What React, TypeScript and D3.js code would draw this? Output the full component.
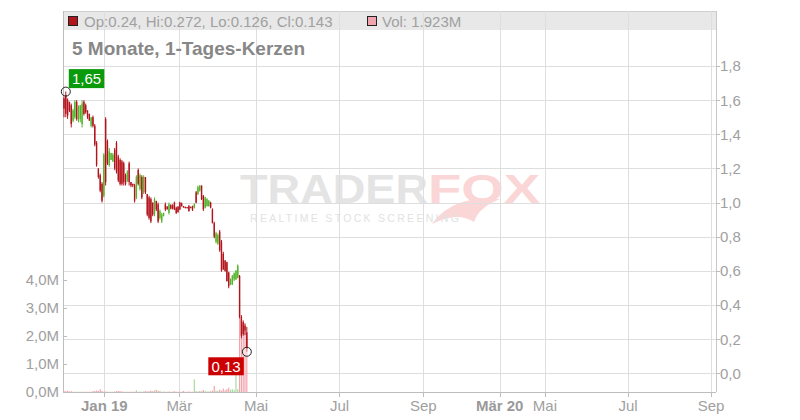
import React from "react";
import * as d3 from "d3";

// Daily candles (trading-day index 0..101), prices in EUR
const openP = [
  1.61, 1.63, 1.60, 1.59, 1.57, 1.48, 1.50, 1.59, 1.48, 1.49, 1.46, 1.59, 1.57, 1.54, 1.52, 1.45, 1.50, 1.45, 1.35, 1.20,
  1.16, 1.11, 1.04, 1.49, 1.36, 1.22, 1.25, 1.24, 1.31, 1.35, 1.27, 1.25, 1.24, 1.23, 1.16, 1.13, 1.23, 1.12, 1.11, 1.10,
  1.03, 1.19, 1.08, 1.15, 1.06, 1.15, 1.05, 1.03, 1.02, 1.00, 0.93, 1.01, 0.99, 0.91, 0.89, 0.92, 0.99, 0.975, 0.94, 0.985,
  0.985, 1.00, 0.97, 0.975, 1.00, 0.995, 0.98, 0.975, 0.973, 0.98, 0.975, 0.98, 0.97, 1.06, 1.05, 1.07, 1.10, 1.04, 0.97, 0.98,
  0.98, 1.00, 0.96, 0.88, 0.77, 0.76, 0.83, 0.77, 0.70, 0.66, 0.65, 0.59, 0.52, 0.52, 0.55, 0.55, 0.56, 0.57, 0.33, 0.30,
  0.28, 0.24,
];
const highP = [
  1.62, 1.65, 1.61, 1.59, 1.58, 1.55, 1.60, 1.60, 1.57, 1.57, 1.60, 1.60, 1.58, 1.54, 1.52, 1.50, 1.51, 1.46, 1.36, 1.20,
  1.17, 1.12, 1.29, 1.50, 1.37, 1.32, 1.29, 1.29, 1.32, 1.36, 1.28, 1.26, 1.25, 1.24, 1.17, 1.19, 1.24, 1.12, 1.11, 1.11,
  1.16, 1.20, 1.17, 1.16, 1.16, 1.15, 1.05, 1.04, 1.03, 1.00, 1.03, 1.01, 1.00, 0.96, 0.94, 0.94, 1.00, 0.98, 1.00, 0.99,
  0.99, 1.005, 0.976, 0.98, 1.005, 1.00, 0.98, 0.976, 0.974, 0.986, 0.976, 0.982, 0.996, 1.068, 1.10, 1.10, 1.10, 1.044, 1.034, 1.025,
  1.015, 1.005, 0.966, 0.888, 0.829, 0.82, 0.839, 0.781, 0.712, 0.664, 0.654, 0.595, 0.556, 0.576, 0.59, 0.605, 0.638, 0.576, 0.341, 0.31,
  0.293, 0.272,
];
const lowP = [
  1.50, 1.50, 1.49, 1.53, 1.44, 1.47, 1.49, 1.48, 1.47, 1.47, 1.44, 1.51, 1.52, 1.49, 1.48, 1.44, 1.44, 1.33, 1.21, 1.14,
  1.06, 1.00, 1.03, 1.10, 1.22, 1.21, 1.25, 1.24, 1.19, 1.17, 1.12, 1.10, 1.10, 1.10, 1.10, 1.12, 1.10, 1.09, 1.09, 1.00,
  1.02, 1.10, 1.07, 1.02, 1.05, 1.05, 0.92, 0.90, 0.88, 0.92, 0.92, 0.95, 0.88, 0.90, 0.88, 0.92, 0.95, 0.96, 0.93, 0.96,
  0.96, 0.956, 0.933, 0.94, 0.956, 0.976, 0.97, 0.966, 0.966, 0.947, 0.966, 0.951, 0.966, 0.996, 1.044, 1.064, 1.015, 0.951, 0.966, 0.976,
  0.976, 0.966, 0.878, 0.791, 0.761, 0.752, 0.712, 0.595, 0.605, 0.595, 0.537, 0.498, 0.517, 0.517, 0.54, 0.547, 0.556, 0.322, 0.205, 0.22,
  0.224, 0.126,
];
const closeP = [
  1.55, 1.52, 1.51, 1.54, 1.46, 1.54, 1.59, 1.49, 1.56, 1.57, 1.58, 1.52, 1.53, 1.50, 1.48, 1.50, 1.45, 1.34, 1.22, 1.15,
  1.07, 1.01, 1.28, 1.12, 1.23, 1.30, 1.29, 1.28, 1.20, 1.18, 1.13, 1.11, 1.11, 1.12, 1.11, 1.18, 1.12, 1.10, 1.10, 1.01,
  1.15, 1.11, 1.16, 1.03, 1.15, 1.06, 0.93, 0.91, 0.89, 0.93, 1.02, 0.96, 0.89, 0.95, 0.93, 0.94, 0.96, 0.96, 0.99, 0.965,
  0.965, 0.96, 0.94, 0.945, 0.96, 0.98, 0.972, 0.968, 0.968, 0.95, 0.968, 0.955, 0.99, 1.00, 1.09, 1.10, 1.02, 0.96, 1.03, 1.02,
  1.01, 0.97, 0.88, 0.80, 0.82, 0.81, 0.72, 0.60, 0.61, 0.60, 0.54, 0.51, 0.55, 0.57, 0.585, 0.60, 0.63, 0.33, 0.22, 0.23,
  0.25, 0.143,
];
// Volume in millions of shares
const volumeM = [
  0.04, 0.03, 0.05, 0.02, 0.03, 0.01, 0.01, 0.01, 0.01, 0.01, 0.01, 0.01, 0.01, 0.01, 0.01, 0.01, 0.03, 0.04, 0.05, 0.04,
  0.10, 0.04, 0.01, 0.02, 0.01, 0.01, 0.01, 0.01, 0.02, 0.03, 0.04, 0.03, 0.02, 0.01, 0.01, 0.01, 0.01, 0.01, 0.01, 0.01,
  0.06, 0.01, 0.02, 0.01, 0.02, 0.04, 0.02, 0.03, 0.05, 0.03, 0.06, 0.08, 0.04, 0.05, 0.01, 0.02, 0.01, 0.01, 0.02, 0.01,
  0.01, 0.03, 0.01, 0.01, 0.01, 0.01, 0.04, 0.01, 0.01, 0.02, 0.01, 0.01, 0.45, 0.03, 0.02, 0.04, 0.03, 0.07, 0.04, 0.02,
  0.02, 0.03, 0.05, 0.22, 0.05, 0.04, 0.08, 0.05, 0.12, 0.06, 0.10, 0.15, 0.08, 0.10, 0.07, 0.85, 0.10, 3.3, 2.6, 2.4,
  2.2, 1.923,
];

const priceTicks = [0, 0.2, 0.4, 0.6, 0.8, 1.0, 1.2, 1.4, 1.6, 1.8];
const volumeTicks = [0, 1, 2, 3, 4];
// month ticks in trading-day index units
const monthTickPos = [22.3, 63.7, 106.1, 152.2, 198.5, 240.7, 265.7, 311.6, 357.5];
const monthTickLabels = ["Jan 19", "Mär", "Mai", "Jul", "Sep", "Mär 20", "Mai", "Jul", "Sep"];
const monthTickBold = [true, false, false, false, false, true, false, false, false];

const titleText = "5 Monate, 1-Tages-Kerzen";

const FONT = "'Liberation Sans', Arial, Helvetica, sans-serif";
const RED = "#b3141c";
const GREEN = "#56b42c";
const VOL_RED = "#f2a4ae";
const VOL_GREEN = "#a8dba0";
const GRID = "#dedede";
const TXT = "#a0a0a0";

const comma = (v: number, d: number) => d3.format(`.${d}f`)(v).replace(".", ",");

export default function App() {
  const left = 63;
  const right = 716;
  const top = 11;
  const bottom = 392;

  const x = d3.scaleLinear().domain([-0.55, 360.2]).range([left, right]);
  const y = d3.scaleLinear().domain([0, 1.8]).range([373.3, 66]);
  const yv = d3.scaleLinear().domain([0, 4]).range([bottom, 280]);

  const n = closeP.length;
  const idx = d3.range(n);
  const last = n - 1;
  const hiIdx = d3.maxIndex(highP);
  const loIdx = d3.minIndex(lowP);

  const legendText = `Op:${openP[last]}, Hi:${highP[last]}, Lo:${lowP[last]}, Cl:${closeP[last]}`;
  const volText = `Vol: ${d3.format(".3f")(volumeM[last])}M`;

  const hiX = x(hiIdx);
  const hiY = y(highP[hiIdx]);
  const loX = x(loIdx);
  const loY = y(lowP[loIdx]);

  return (
    <svg
      width={800}
      height={420}
      style={{ position: "absolute", left: 0, top: 0, background: "#fff" }}
      fontFamily={FONT}
    >
      {/* watermark */}
      <g>
        <text
          x={240}
          y={203}
          fontSize={40}
          fontWeight="bold"
          fill="#e4e4e4"
          textLength={188}
          lengthAdjust="spacingAndGlyphs"
        >
          TRADER
        </text>
        <text
          x={428}
          y={203}
          fontSize={40}
          fontWeight="bold"
          fill="#fad6d6"
          textLength={112}
          lengthAdjust="spacingAndGlyphs"
        >
          FOX
        </text>
        <path
          d="M432,224 C446,204 470,196 500,199 C488,204 478,210 474,222 C462,214 448,216 432,224 Z"
          fill="#fad6d6"
        />
        <text x={250} y={222} fontSize={10.5} fill="#e2e2e2" letterSpacing={2.3}>
          REALTIME STOCK SCREENING
        </text>
      </g>

      {/* legend bar */}
      <rect x={left} y={top} width={right - left} height={19} fill="#e8e8e8" />
      <line x1={left} x2={right} y1={top + 0.5} y2={top + 0.5} stroke="#cfcfcf" />

      {/* grid */}
      {priceTicks.map((t) => (
        <line
          key={"hg" + t}
          x1={left}
          x2={right}
          y1={Math.round(y(t)) + 0.5}
          y2={Math.round(y(t)) + 0.5}
          stroke={GRID}
        />
      ))}
      {monthTickPos.map((t, i) => (
        <line
          key={"vg" + i}
          x1={Math.round(x(t)) + 0.5}
          x2={Math.round(x(t)) + 0.5}
          y1={top}
          y2={bottom}
          stroke={GRID}
        />
      ))}

      {/* axes */}
      <line x1={left + 0.5} x2={left + 0.5} y1={top} y2={bottom} stroke="#bdbdbd" />
      <line x1={right + 0.5} x2={right + 0.5} y1={top} y2={bottom} stroke="#c8c8c8" />
      <line x1={left} x2={right} y1={bottom + 0.5} y2={bottom + 0.5} stroke="#bdbdbd" />

      {/* legend */}
      <rect x={68.5} y={16.5} width={9} height={9} fill={RED} stroke="#222" strokeWidth={1} />
      <text x={84} y={26.5} fontSize={15} fill={TXT}>
        {legendText}
      </text>
      <rect x={367.5} y={16.5} width={9} height={9} fill={VOL_RED} stroke="#222" strokeWidth={1} />
      <text x={382} y={26.5} fontSize={15} fill={TXT}>
        {volText}
      </text>

      {/* title */}
      <text x={72} y={55} fontSize={19} fontWeight="bold" fill="#878787">
        {titleText}
      </text>

      {/* volume bars */}
      {idx.map((i) => {
        const up = closeP[i] >= openP[i];
        const h = bottom - yv(volumeM[i]);
        return (
          <rect
            key={"v" + i}
            x={x(i) - 0.6}
            y={bottom - h}
            width={1.2}
            height={Math.max(h, 0.5)}
            fill={up ? VOL_GREEN : VOL_RED}
          />
        );
      })}

      {/* candles */}
      {idx.map((i) => {
        const up = closeP[i] >= openP[i];
        const c = up ? GREEN : RED;
        const bt = y(Math.max(openP[i], closeP[i]));
        const bb = y(Math.min(openP[i], closeP[i]));
        return (
          <g key={"c" + i}>
            <line x1={x(i)} x2={x(i)} y1={y(highP[i])} y2={y(lowP[i])} stroke={c} strokeWidth={1} />
            <rect x={x(i) - 0.7} y={bt} width={1.4} height={Math.max(bb - bt, 1)} fill={c} />
          </g>
        );
      })}

      {/* right price axis */}
      {priceTicks.map((t) => (
        <g key={"pt" + t}>
          <line x1={right} x2={right + 4} y1={Math.round(y(t)) + 0.5} y2={Math.round(y(t)) + 0.5} stroke="#bdbdbd" />
          <text x={720} y={y(t)} dy="0.36em" fontSize={15} fill={TXT}>
            {comma(t, 1)}
          </text>
        </g>
      ))}

      {/* left volume axis */}
      {volumeTicks.map((t) => (
        <g key={"vt" + t}>
          <line x1={left} x2={left + 4} y1={Math.round(yv(t)) + 0.5} y2={Math.round(yv(t)) + 0.5} stroke="#bdbdbd" />
          <text x={59} y={yv(t)} dy="0.36em" fontSize={15} fill={TXT} textAnchor="end">
            {comma(t, 1)}M
          </text>
        </g>
      ))}

      {/* bottom time axis */}
      {monthTickPos.map((t, i) => (
        <g key={"xt" + i}>
          <line
            x1={Math.round(x(t)) + 0.5}
            x2={Math.round(x(t)) + 0.5}
            y1={bottom}
            y2={bottom + 5}
            stroke="#bdbdbd"
          />
          <text
            x={x(t)}
            y={411}
            fontSize={15}
            fontWeight={monthTickBold[i] ? "bold" : "normal"}
            fill={monthTickBold[i] ? "#9a9a9a" : TXT}
            textAnchor="middle"
          >
            {monthTickLabels[i]}
          </text>
        </g>
      ))}

      {/* high marker */}
      <rect x={hiX + 3} y={hiY - 22.5} width={35.5} height={19} fill="#0a9a0a" />
      <text x={hiX + 20.75} y={hiY - 7.5} fontSize={15} fill="#fff" textAnchor="middle">
        {comma(highP[hiIdx], 2)}
      </text>
      <circle cx={hiX} cy={hiY} r={4.5} fill="none" stroke="#222" strokeWidth={1} />

      {/* low marker */}
      <rect x={loX - 38.5} y={loY + 5.5} width={35.5} height={18} fill="#cc0000" />
      <text x={loX - 20.75} y={loY + 20} fontSize={15} fill="#fff" textAnchor="middle">
        {comma(lowP[loIdx], 2)}
      </text>
      <circle cx={loX} cy={loY} r={4.5} fill="#fff" fillOpacity={0.4} stroke="#222" strokeWidth={1} />
    </svg>
  );
}
